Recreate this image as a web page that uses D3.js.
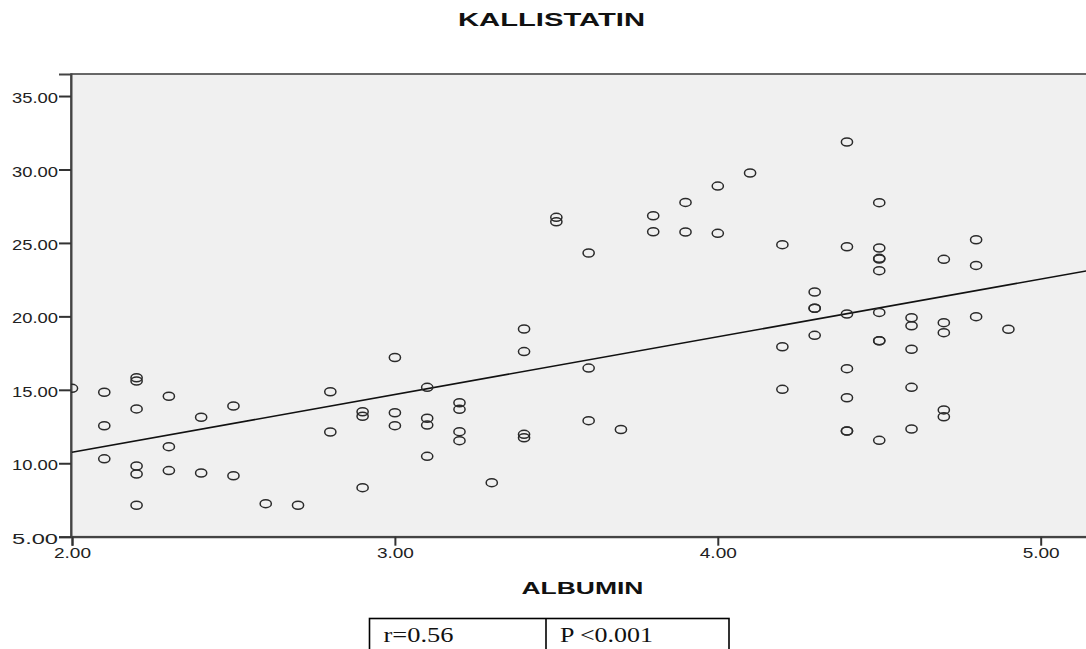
<!DOCTYPE html>
<html>
<head>
<meta charset="utf-8">
<script src="https://cdn.jsdelivr.net/npm/d3@7"></script>
<style>
  html, body { margin: 0; padding: 0; background: #fff; }
  svg { display: block; }
</style>
</head>
<body>
<div id="chart"></div>
<script>
// ─── data ────────────────────────────────────────────────────────────────────

const albumin = [
  2.0, 2.1, 2.1, 2.1, 2.2, 2.2, 2.2, 2.2, 2.2, 2.2,
  2.3, 2.3, 2.3, 2.4, 2.4, 2.5, 2.5, 2.6, 2.7, 2.8,
  2.8, 2.9, 2.9, 2.9, 3.0, 3.0, 3.0, 3.1, 3.1, 3.1,
  3.1, 3.2, 3.2, 3.2, 3.2, 3.3, 3.4, 3.4, 3.4, 3.4,
  3.5, 3.5, 3.6, 3.6, 3.6, 3.7, 3.8, 3.8, 3.9, 3.9,
  4.0, 4.0, 4.1, 4.2, 4.2, 4.2, 4.3, 4.3, 4.3, 4.3,
  4.4, 4.4, 4.4, 4.4, 4.4, 4.4, 4.4, 4.5, 4.5, 4.5,
  4.5, 4.5, 4.5, 4.5, 4.5, 4.5, 4.6, 4.6, 4.6, 4.6,
  4.6, 4.7, 4.7, 4.7, 4.7, 4.7, 4.8, 4.8, 4.8, 4.9
];
const kallistatin = [
  15.10, 14.83, 12.55, 10.30, 15.82, 15.60, 13.70, 9.81, 9.27, 7.14,
  14.56, 11.13, 9.50, 13.13, 9.34, 13.90, 9.15, 7.25, 7.14, 14.87,
  12.13, 13.51, 13.20, 8.34, 17.20, 13.44, 12.56, 15.17, 13.06, 12.60,
  10.47, 14.12, 13.67, 12.15, 11.54, 8.68, 19.14, 17.60, 11.97, 11.74,
  26.74, 26.44, 24.31, 16.48, 12.90, 12.30, 26.85, 25.76, 27.76, 25.74,
  28.87, 25.65, 29.76, 24.88, 17.93, 15.03, 21.66, 20.55, 20.55, 18.71,
  31.87, 24.74, 20.16, 16.44, 14.46, 12.20, 12.20, 27.74, 24.65, 23.95,
  23.90, 23.11, 20.27, 18.34, 18.34, 11.56, 19.91, 19.36, 17.76, 15.17,
  12.33, 23.88, 19.57, 18.89, 13.63, 13.17, 25.22, 23.47, 19.98, 19.12
];

const xTicks = [2, 3, 4, 5];
const yTicks = [5, 10, 15, 20, 25, 30, 35];

// fit line as drawn (linear)
const fitIntercept = 2.89;
const fitSlope = 3.93;
const fitRange = [2.0, 5.2];

const statLabels = ["r=0.56", "P <0.001"];

// ─── layout ─────────────────────────────────────────────────────────────────

const width = 1086, height = 649;
const plot = { left: 71, top: 74, bottom: 536.7 };

const svg = d3.select("#chart").append("svg")
    .attr("width", width)
    .attr("height", height);

const x = d3.scaleLinear().domain([2, 5.2]).range([72, 72 + 3.2 * 322.9]);
const y = d3.scaleLinear().domain([5, 36.5]).range([plot.bottom, plot.top]);

svg.append("defs").append("clipPath").attr("id", "clip")
  .append("rect")
    .attr("x", plot.left).attr("y", plot.top)
    .attr("width", width - plot.left).attr("height", plot.bottom - plot.top);

// plot background + frame
svg.append("rect")
    .attr("x", plot.left).attr("y", plot.top)
    .attr("width", width - plot.left + 20)
    .attr("height", plot.bottom - plot.top)
    .attr("fill", "#f0f0f0")
    .attr("stroke", "#444")
    .attr("stroke-width", 1.6);

// ─── axes ───────────────────────────────────────────────────────────────────

const fmt = d3.format(".2f");

const yAxis = svg.append("g")
    .attr("transform", `translate(${plot.left},0)`)
    .call(d3.axisLeft(y).tickValues(yTicks).tickFormat(fmt).tickSize(12).tickPadding(1));

const xAxis = svg.append("g")
    .attr("transform", `translate(0,${plot.bottom})`)
    .call(d3.axisBottom(x).tickValues(xTicks).tickFormat(fmt).tickSize(9).tickPadding(2));

[yAxis, xAxis].forEach(a => {
  a.select(".domain").attr("stroke", "#444").attr("stroke-width", 2);
  a.selectAll(".tick line").attr("stroke", "#333").attr("stroke-width", 2);
  a.selectAll(".tick text")
      .attr("fill", "#222")
      .style("font-family", "'Liberation Sans', Arial, sans-serif")
      .style("font-size", "14.5px");
});

yAxis.selectAll(".tick text")
    .attr("dy", "0.45em")
    .attr("textLength", 46)
    .attr("lengthAdjust", "spacingAndGlyphs");

xAxis.selectAll(".tick text")
    .attr("textLength", 37)
    .attr("lengthAdjust", "spacingAndGlyphs");

// ─── marks ──────────────────────────────────────────────────────────────────

const marks = svg.append("g").attr("clip-path", "url(#clip)");

marks.append("line")
    .attr("x1", x(fitRange[0]))
    .attr("y1", y(fitIntercept + fitSlope * fitRange[0]))
    .attr("x2", x(fitRange[1]))
    .attr("y2", y(fitIntercept + fitSlope * fitRange[1]))
    .attr("stroke", "#111")
    .attr("stroke-width", 1.6);

marks.selectAll("ellipse.pt")
  .data(d3.zip(albumin, kallistatin))
  .join("ellipse")
    .attr("class", "pt")
    .attr("cx", d => x(d[0]))
    .attr("cy", d => y(d[1]))
    .attr("rx", 5.6)
    .attr("ry", 4)
    .attr("fill", "none")
    .attr("stroke", "#2a2a2a")
    .attr("stroke-width", 1.5);

// ─── titles ─────────────────────────────────────────────────────────────────

svg.append("text")
    .attr("x", 551.5).attr("y", 26)
    .attr("text-anchor", "middle")
    .attr("textLength", 187)
    .attr("lengthAdjust", "spacingAndGlyphs")
    .style("font-family", "'Liberation Sans', Arial, sans-serif")
    .style("font-weight", "bold")
    .style("font-size", "18px")
    .attr("fill", "#111")
    .text("KALLISTATIN");

svg.append("text")
    .attr("x", 582.5).attr("y", 594)
    .attr("text-anchor", "middle")
    .attr("textLength", 122)
    .attr("lengthAdjust", "spacingAndGlyphs")
    .style("font-family", "'Liberation Sans', Arial, sans-serif")
    .style("font-weight", "bold")
    .style("font-size", "17px")
    .attr("fill", "#111")
    .text("ALBUMIN");

// ─── stats table under the chart ────────────────────────────────────────────

const cols = [369.5, 546, 729];
const tbl = svg.append("g");

tbl.append("rect")
    .attr("x", cols[0]).attr("y", 618.5)
    .attr("width", cols[2] - cols[0]).attr("height", 40)
    .attr("fill", "none").attr("stroke", "#000").attr("stroke-width", 1.6);

tbl.append("line")
    .attr("x1", cols[1]).attr("x2", cols[1])
    .attr("y1", 618.5).attr("y2", 660)
    .attr("stroke", "#000").attr("stroke-width", 1.6);

tbl.selectAll("text.stat")
  .data(statLabels)
  .join("text")
    .attr("class", "stat")
    .attr("x", (d, i) => cols[i] + 14)
    .attr("y", 642)
    .attr("textLength", (d, i) => i === 0 ? 70 : 93)
    .attr("lengthAdjust", "spacingAndGlyphs")
    .style("font-family", "'Liberation Serif', 'Times New Roman', serif")
    .style("font-size", "21px")
    .attr("fill", "#111")
    .text(d => d);
</script>
</body>
</html>
